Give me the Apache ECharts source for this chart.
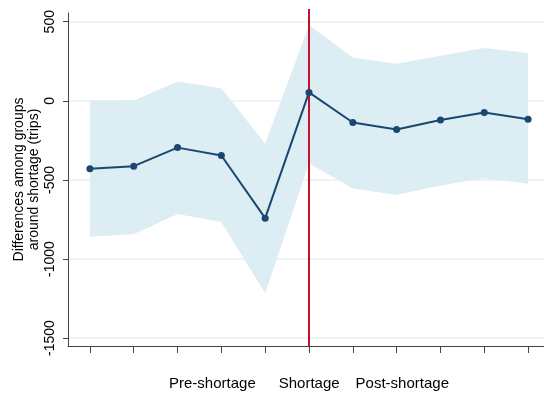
<!DOCTYPE html>
<html>
<head>
<meta charset="utf-8">
<script src="https://cdn.jsdelivr.net/npm/echarts@6/dist/echarts.min.js"></script>
<style>
  html, body { margin: 0; padding: 0; background: #fff; }
  #chart { width: 544px; height: 397px; }
</style>
</head>
<body>
<div id="chart"></div>
<script>
// Event-time periods around the shortage (index 5 is the shortage itself)
const periods = ['0', '1', '2', '3', '4', '5', '6', '7', '8', '9', '10'];
// Point estimates of the group differences (trips)
const estimate = [-430, -413, -296, -346, -742, 53, -137, -182, -122, -74, -116];
// 95% confidence bounds
const ciLower = [-859, -844, -715, -766, -1217, -394, -555, -595, -536, -489, -525];
const ciUpper = [0, 2, 122, 80, -272, 478, 274, 234, 285, 333, 302];
// Y tick values
const yTicks = [-1500, -1000, -500, 0, 500];
// Shortage marker: period index and vertical extent
const shortageIndex = 5;
const shortageSpan = [-1550, 580];

const bandWidth = ciUpper.map((u, i) => u - ciLower[i]);
const font = 'Liberation Sans, Arial, sans-serif';

const chart = echarts.init(document.getElementById('chart'), null, { renderer: 'canvas' });
chart.setOption({
  animation: false,
  backgroundColor: '#ffffff',
  grid: { left: 68, width: 482, top: 13, bottom: 51, containLabel: false, outerBoundsMode: 'none' },
  xAxis: {
    type: 'category',
    data: periods,
    boundaryGap: true,
    name: '{a|Pre-shortage}{b|Shortage}{c|Post-shortage}',
    nameLocation: 'middle',
    nameGap: 30,
    nameMoveOverlap: false,
    nameTextStyle: {
      fontFamily: font,
      fontSize: 15,
      color: '#000',
      rich: {
        a: { fontFamily: font, fontSize: 15, color: '#000', padding: [0, 23, 0, 0] },
        b: { fontFamily: font, fontSize: 15, color: '#000', padding: [0, 16, 0, 0] },
        c: { fontFamily: font, fontSize: 15, color: '#000' }
      }
    },
    axisLine: { show: true, onZero: false, lineStyle: { color: '#444', width: 1 } },
    axisTick: { show: true, alignWithLabel: true, length: 7, lineStyle: { color: '#444', width: 1 } },
    axisLabel: { show: false },
    splitLine: { show: false }
  },
  yAxis: {
    type: 'value',
    min: -1550,
    max: 555,
    name: 'Differences among groups\naround shortage (trips)',
    nameLocation: 'middle',
    nameRotate: 90,
    nameGap: 26,
    nameMoveOverlap: false,
    nameTextStyle: {
      fontFamily: font,
      fontSize: 14,
      lineHeight: 15,
      color: '#000'
    },
    axisLine: { show: true, lineStyle: { color: '#444', width: 1 } },
    axisTick: { show: true, length: 5, customValues: yTicks, lineStyle: { color: '#444', width: 1 } },
    axisLabel: {
      customValues: yTicks,
      rotate: 90,
      margin: 11,
      fontFamily: font,
      fontSize: 14,
      color: '#000',
      formatter: v => String(v)
    },
    splitLine: { show: true, lineStyle: { color: '#e6f0f2', width: 1.5 } }
  },
  series: [
    {
      name: 'ci-lower',
      type: 'line',
      data: ciLower,
      stack: 'ci',
      stackStrategy: 'all',
      symbol: 'none',
      lineStyle: { opacity: 0 },
      silent: true,
      z: 1
    },
    {
      name: 'ci-band',
      type: 'line',
      data: bandWidth,
      stack: 'ci',
      stackStrategy: 'all',
      symbol: 'none',
      lineStyle: { opacity: 0 },
      areaStyle: { color: '#dcedf3', opacity: 1 },
      silent: true,
      z: 1
    },
    {
      name: 'shortage',
      type: 'line',
      data: shortageSpan.map(v => [shortageIndex, v]),
      symbol: 'none',
      clip: false,
      lineStyle: { color: '#c8102e', width: 2 },
      z: 3
    },
    {
      name: 'estimate',
      type: 'line',
      data: estimate,
      symbol: 'circle',
      symbolSize: 7,
      itemStyle: { color: '#1a476f' },
      lineStyle: { color: '#1a476f', width: 2 },
      z: 4
    }
  ]
});
</script>
</body>
</html>
